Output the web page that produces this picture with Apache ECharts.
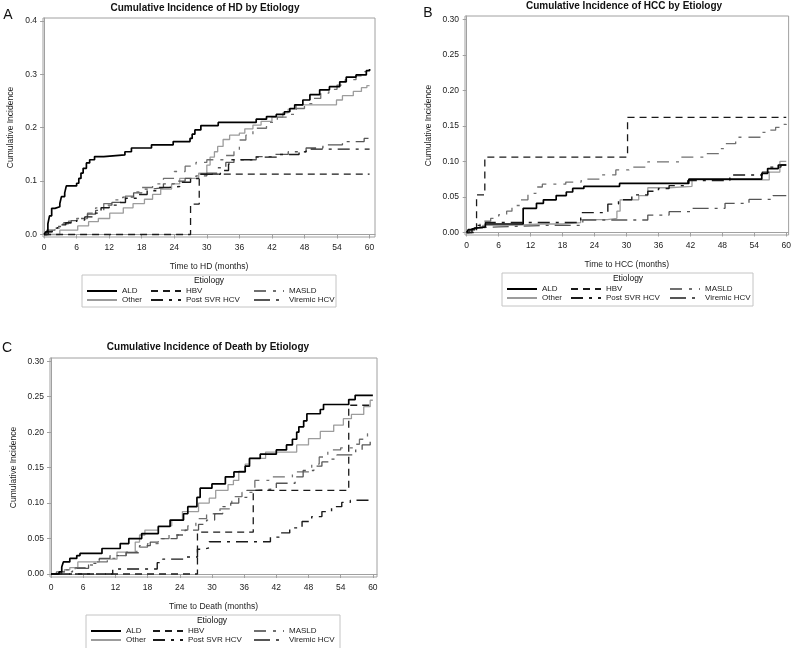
<!DOCTYPE html>
<html>
<head>
<meta charset="utf-8">
<script src="https://cdn.jsdelivr.net/npm/echarts@6/dist/echarts.min.js"></script>
<style>
  html, body { margin: 0; padding: 0; background: #fff; }
  #chart { width: 794px; height: 648px; }
</style>
</head>
<body>
<div id="chart"></div>
<script>
// cumulative incidence step curves, [month, incidence]
const hdALD = [[0,0],[0.3,0.005],[0.7,0.02],[1.0,0.035],[1.4,0.049],[2.0,0.052],[2.9,0.058],[3.2,0.071],[3.8,0.078],[4.1,0.091],[6.0,0.096],[6.4,0.105],[6.8,0.115],[7.2,0.124],[7.8,0.134],[8.4,0.14],[9.3,0.146],[11.0,0.149],[14.9,0.155],[16.1,0.162],[19.8,0.168],[23.8,0.174],[26.9,0.18],[27.3,0.188],[27.8,0.196],[28.9,0.204],[32.1,0.21],[39.1,0.216],[41,0.221],[42.8,0.225],[44.3,0.23],[45.3,0.236],[46.2,0.243],[47.7,0.252],[49,0.262],[50.8,0.271],[52.6,0.277],[54.5,0.286],[55.7,0.295],[57.5,0.299],[59.4,0.307],[60,0.31]]
const hdHBV = [[0,0],[27.0,0.057],[28.6,0.113],[60,0.113]]
const hdMASLD = [[0,0],[0.5,0.005],[1.5,0.012],[3,0.02],[4.5,0.025],[6,0.03],[8,0.04],[9.5,0.05],[11,0.058],[13,0.065],[15,0.072],[16.5,0.08],[18,0.088],[20,0.095],[22,0.105],[24,0.118],[26,0.128],[28,0.135],[30,0.14],[33,0.148],[35,0.155],[36,0.177],[37.2,0.186],[38.5,0.199],[41,0.21],[43,0.22],[45,0.225],[46.5,0.236],[48,0.245],[49.5,0.255],[51,0.265],[52.5,0.272],[54,0.28],[55.5,0.29],[57.5,0.297],[59,0.305],[60,0.305]]
const hdOther = [[0,0],[2.9,0.008],[6.2,0.016],[8.2,0.024],[10.0,0.03],[12.1,0.04],[14.6,0.05],[16.4,0.058],[18.5,0.066],[20.0,0.075],[21.5,0.085],[23.5,0.095],[25.0,0.105],[28.5,0.115],[30.0,0.13],[30.6,0.145],[31.4,0.155],[32.0,0.165],[33.0,0.178],[34.2,0.186],[36.0,0.19],[37.0,0.198],[38.5,0.205],[40.0,0.212],[42.0,0.22],[44.0,0.228],[45.0,0.235],[46.5,0.243],[53.9,0.252],[55.0,0.26],[57.0,0.268],[58.5,0.275],[59.5,0.279],[60,0.28]]
const hdPostSVR = [[0,0],[0.8,0.005],[1.5,0.012],[2.5,0.018],[4,0.022],[6,0.027],[7.5,0.033],[9,0.04],[10.5,0.05],[12,0.055],[13.5,0.06],[15,0.068],[17,0.075],[19,0.082],[21,0.088],[23,0.09],[25,0.098],[27,0.105],[28.5,0.113],[32.5,0.12],[34,0.132],[34.5,0.14],[39,0.145],[43,0.15],[47,0.155],[48.3,0.16],[60,0.16]]
const hdViremic = [[0,0],[0.5,0.008],[2,0.015],[3.5,0.022],[5,0.026],[6.5,0.03],[8,0.038],[9.5,0.045],[11,0.055],[12.5,0.06],[14.5,0.07],[16.5,0.078],[18,0.085],[20,0.088],[22,0.095],[24,0.1],[26,0.105],[28,0.11],[30,0.115],[32,0.125],[33.5,0.135],[35,0.14],[39.1,0.146],[42.5,0.15],[45,0.155],[48.3,0.162],[51.4,0.168],[55,0.174],[59,0.18],[60,0.18]]

const hccALD = [[0,0],[0.3,0.004],[0.8,0.006],[1.5,0.008],[3.5,0.012],[10.6,0.034],[13.1,0.041],[14.4,0.046],[16.8,0.052],[18.7,0.057],[19.9,0.062],[22,0.065],[28.7,0.069],[41.7,0.075],[55.4,0.083],[56.5,0.09],[58.5,0.095],[60,0.095]]
const hccHBV = [[0,0],[1.85,0.053],[3.4,0.106],[30.2,0.162],[60,0.162]]
const hccMASLD = [[0,0],[0.5,0.004],[1.5,0.008],[2.5,0.016],[4.5,0.02],[6,0.025],[7.5,0.03],[8.5,0.038],[10,0.046],[11.5,0.055],[13,0.064],[14.2,0.068],[18.6,0.071],[21.5,0.075],[25,0.081],[28,0.088],[30.5,0.092],[34,0.0995],[40,0.106],[44.5,0.111],[47.5,0.118],[48.3,0.125],[50.5,0.134],[55.5,0.141],[56.6,0.144],[58,0.148],[59,0.152],[60,0.153]]
const hccOther = [[0,0],[0.5,0.003],[1.5,0.006],[3,0.01],[8.5,0.012],[14,0.012],[18,0.014],[21.4,0.018],[26.4,0.02],[28.2,0.03],[28.8,0.046],[32.3,0.052],[34,0.063],[38,0.065],[42.3,0.074],[56.8,0.085],[58.8,0.1],[60,0.1]]
const hccPostSVR = [[0,0],[1,0.005],[2,0.01],[3.5,0.014],[21.4,0.028],[26.5,0.04],[28.5,0.046],[31,0.053],[34,0.058],[36,0.062],[38,0.066],[41.5,0.073],[49.4,0.081],[55.5,0.085],[57,0.092],[59,0.095],[60,0.095]]
const hccViremic = [[0,0],[0.5,0.004],[1.5,0.007],[3,0.008],[6,0.01],[15,0.01],[21.8,0.0176],[33,0.0176],[34,0.0246],[38,0.0293],[42.4,0.034],[48.5,0.041],[53,0.0466],[57.5,0.052],[60,0.052]]

const deathALD = [[0,0],[1.5,0.003],[2.0,0.01],[2.3,0.017],[3.5,0.022],[4.8,0.026],[5.4,0.029],[9.5,0.036],[12.9,0.043],[14.5,0.05],[16.9,0.057],[20,0.067],[22.2,0.076],[24.7,0.085],[25.5,0.095],[27.2,0.108],[27.8,0.121],[30,0.127],[32.5,0.137],[34.1,0.144],[36.2,0.152],[37,0.163],[39,0.169],[42,0.175],[43.9,0.182],[45,0.19],[45.8,0.2],[46.2,0.2075],[47.1,0.216],[47.7,0.226],[50.2,0.232],[50.8,0.239],[55.5,0.246],[56.7,0.252],[60,0.252]]
const deathHBV = [[0,0],[27.3,0.059],[37.7,0.118],[55.5,0.238],[60,0.238]]
const deathMASLD = [[0,0],[1,0.003],[2.5,0.006],[4.5,0.009],[6.8,0.0127],[8.5,0.017],[10.5,0.022],[12.5,0.026],[14,0.031],[16,0.038],[18,0.043],[20,0.05],[22,0.055],[24,0.062],[25.5,0.068],[27,0.078],[29,0.085],[31.5,0.092],[33.7,0.109],[35.6,0.115],[38,0.132],[40.6,0.137],[45,0.144],[48.6,0.155],[50,0.165],[51.6,0.175],[54,0.178],[56.5,0.183],[57.5,0.19],[59,0.198],[60,0.2]]
const deathOther = [[0,0],[1.5,0.003],[2.5,0.006],[3.5,0.009],[5,0.017],[9,0.021],[12.3,0.031],[15.7,0.045],[16.5,0.055],[17.5,0.062],[20,0.068],[22.5,0.076],[24.5,0.088],[27.5,0.1],[29.5,0.107],[30.7,0.118],[33,0.126],[34,0.132],[35,0.145],[36.2,0.155],[37,0.163],[40,0.172],[45.8,0.182],[48,0.191],[50.2,0.201],[52.7,0.21],[54.5,0.219],[56,0.225],[58.3,0.236],[59.5,0.245],[60,0.245]]
const deathPostSVR = [[0,0],[11.5,0.007],[19.8,0.016],[20.8,0.021],[25,0.024],[27.3,0.035],[28.5,0.037],[29.5,0.0455],[40.9,0.052],[42.5,0.058],[44.5,0.065],[46.8,0.074],[48.6,0.081],[50.5,0.088],[52.3,0.095],[54.2,0.101],[55.8,0.104],[60,0.104]]
const deathViremic = [[0,0],[2,0.003],[4,0.008],[7,0.015],[9,0.022],[11,0.026],[14,0.03],[16.5,0.04],[18.5,0.045],[20,0.05],[23.5,0.055],[25,0.062],[27.5,0.07],[29,0.076],[30.5,0.085],[32,0.095],[33.5,0.1],[35,0.108],[36.5,0.118],[38,0.12],[42,0.128],[45.5,0.137],[47,0.146],[49,0.152],[50.5,0.158],[52,0.162],[53.3,0.168],[55.5,0.168],[56.8,0.175],[58,0.182],[59.5,0.19],[60,0.19]]

const monthTicks = [0, 6, 12, 18, 24, 30, 36, 42, 48, 54, 60]
const hdTicks = [0, 0.1, 0.2, 0.3, 0.4]
const smallTicks = [0, 0.05, 0.1, 0.15, 0.2, 0.25, 0.3]

const FONT = '"Liberation Sans", Arial, sans-serif'

const styles = {
  'ALD': { color: '#000', type: 'solid', width: 1.7 },
  'HBV': { color: '#1a1a1a', type: [7, 5], width: 1.3 },
  'MASLD': { color: '#707070', type: [12, 7, 3, 7], width: 1.3 },
  'Other': { color: '#9c9c9c', type: 'solid', width: 1.3 },
  'Post SVR HCV': { color: '#1a1a1a', type: [12, 6, 3, 6], width: 1.4 },
  'Viremic HCV': { color: '#555', type: [16, 6, 3, 6], width: 1.3 }
}

const panels = [
  { ALD: hdALD, HBV: hdHBV, MASLD: hdMASLD, Other: hdOther, 'Post SVR HCV': hdPostSVR, 'Viremic HCV': hdViremic },
  { ALD: hccALD, HBV: hccHBV, MASLD: hccMASLD, Other: hccOther, 'Post SVR HCV': hccPostSVR, 'Viremic HCV': hccViremic },
  { ALD: deathALD, HBV: deathHBV, MASLD: deathMASLD, Other: deathOther, 'Post SVR HCV': deathPostSVR, 'Viremic HCV': deathViremic }
]
const drawOrder = ['Other', 'MASLD', 'Viremic HCV', 'Post SVR HCV', 'HBV', 'ALD']
// legend columns, top row first
const legendCols = [['ALD', 'Other'], ['HBV', 'Post SVR HCV'], ['MASLD', 'Viremic HCV']]

const series = []
panels.forEach((p, i) => {
  drawOrder.forEach((name, k) => {
    series.push({
      type: 'line',
      name: name,
      xAxisIndex: i,
      yAxisIndex: i,
      data: p[name],
      step: 'end',
      symbol: 'none',
      z: 2 + k,
      lineStyle: styles[name],
      itemStyle: { color: styles[name].color }
    })
  })
})

function xAx(idx, min, max, label) {
  return {
    type: 'value', gridIndex: idx, min: min, max: max,
    name: label, nameLocation: 'middle', nameGap: 25,
    nameTextStyle: { fontFamily: FONT, fontSize: 8.5, color: '#222' },
    axisLine: { lineStyle: { color: '#a0a0a0' } },
    axisTick: { customValues: monthTicks, length: 4, lineStyle: { color: '#a0a0a0' } },
    axisLabel: { customValues: monthTicks, fontFamily: FONT, fontSize: 8.5, color: '#222', margin: 6 },
    splitLine: { show: false }
  }
}
function yAx(idx, min, max, ticks, digits, gap) {
  return {
    type: 'value', gridIndex: idx, min: min, max: max,
    name: 'Cumulative Incidence', nameLocation: 'middle', nameGap: gap,
    nameTextStyle: { fontFamily: FONT, fontSize: 8.5, color: '#222' },
    axisLine: { show: true, lineStyle: { color: '#a0a0a0' } },
    axisTick: { show: true, customValues: ticks, length: 4, lineStyle: { color: '#a0a0a0' } },
    axisLabel: { customValues: ticks, fontFamily: FONT, fontSize: 8.5, color: '#222', margin: 6,
      formatter: v => v.toFixed(digits) },
    splitLine: { show: false }
  }
}

function legendCols3(xs, y) {
  return legendCols.map((names, c) => ({
    orient: 'vertical', left: xs[c], top: y, padding: 0,
    itemWidth: 30, itemHeight: 8, itemGap: 1,
    selectedMode: false, itemStyle: { opacity: 0 },
    textStyle: { fontFamily: FONT, fontSize: 8, color: '#222' },
    data: names
  }))
}

function txt(x, y, text, size, weight) {
  return { type: 'text', x: x, y: y, silent: true,
    style: { text: text, fontFamily: FONT, fontSize: size, fontWeight: weight || 'normal', fill: '#111', align: 'center', verticalAlign: 'middle' } }
}
function box(x, y, w, h) {
  return { type: 'rect', silent: true, shape: { x: x, y: y, width: w, height: h },
    style: { fill: 'none', stroke: '#c4c4c4', lineWidth: 1 } }
}

const chart = echarts.init(document.getElementById('chart'))
chart.setOption({
  backgroundColor: '#fff',
  animation: false,
  grid: [
    { left: 43, top: 18, width: 332, height: 219, show: true, borderColor: '#a0a0a0', borderWidth: 1 },
    { left: 465, top: 16, width: 326, height: 219, show: true, borderColor: '#a0a0a0', borderWidth: 1 },
    { left: 50, top: 358, width: 327, height: 219, show: true, borderColor: '#a0a0a0', borderWidth: 1 }
  ],
  xAxis: [
    xAx(0, -0.2, 61, 'Time to HD (months)'),
    xAx(1, -0.32, 60.44, 'Time to HCC (months)'),
    xAx(2, -0.19, 60.77, 'Time to Death (months)')
  ],
  yAxis: [
    yAx(0, -0.0047, 0.4056, hdTicks, 1, 28),
    yAx(1, -0.0035, 0.3046, smallTicks, 2, 32),
    yAx(2, -0.0042, 0.3046, smallTicks, 2, 32)
  ],
  legend: [].concat(
    legendCols3([86, 150, 253], 287),
    legendCols3([506, 570, 669], 285),
    legendCols3([90, 152, 253], 627)
  ),
  graphic: [
    txt(8, 15, 'A', 14), txt(428, 13, 'B', 14), txt(7, 348, 'C', 14),
    txt(205, 8, 'Cumulative Incidence of HD by Etiology', 10, 'bold'),
    txt(624, 6, 'Cumulative Incidence of HCC by Etiology', 10, 'bold'),
    txt(208, 347, 'Cumulative Incidence of Death by Etiology', 10, 'bold'),
    box(82, 275, 254, 32), txt(209, 281, 'Etiology', 8.5),
    box(502, 273, 251, 33), txt(628, 279, 'Etiology', 8.5),
    box(86, 615, 254, 40), txt(212, 621, 'Etiology', 8.5)
  ],
  series: series
})
</script>
</body>
</html>
